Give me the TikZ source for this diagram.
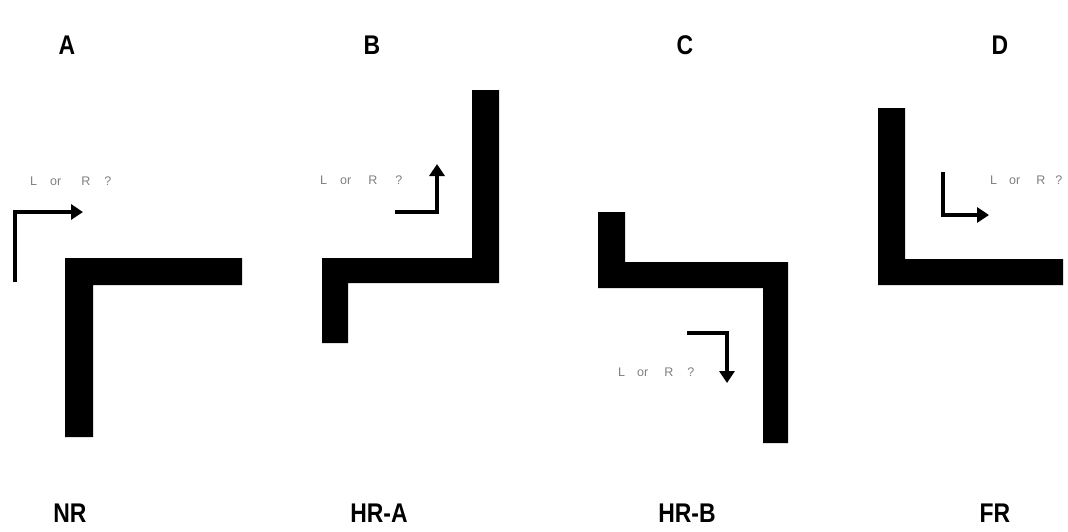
\documentclass[tikz,border=0pt]{standalone}
\usepackage{fontspec}
\setmainfont{Liberation Sans}
\usetikzlibrary{arrows.meta}
\begin{document}
\begin{tikzpicture}[x=1pt,y=-1pt,
  bar/.style={fill=black,draw=none},
  turn/.style={line width=4.5pt,-{Triangle[length=12pt,width=15pt]},line join=miter},
  panel/.style={font=\bfseries\fontsize{27}{30}\selectfont,inner sep=0pt,xscale=0.85},
  ask/.style={font=\fontsize{12.5}{14}\selectfont,text=black!50,inner sep=0pt,anchor=west}]
\useasboundingbox (0,0) rectangle (1068,531);
% panel letters
\node[panel] (la) at (67,45) {A};
\node[panel] (lb) at (372,45) {B};
\node[panel] (lc) at (685,45) {C};
\node[panel] (ld) at (1000,45) {D};
% bottom labels
\node[panel] (na) at (70,513) {NR};
\node[panel] (nb) at (379,513) {HR-A};
\node[panel] (nc) at (687,513) {HR-B};
\node[panel] (nd) at (995,513) {FR};
% corridors
\fill[bar] (65,258) -- (242,258) -- (242,285) -- (93,285) -- (93,437) -- (65,437) -- cycle;
\fill[bar] (472,90) -- (499,90) -- (499,283) -- (348,283) -- (348,343) -- (322,343) -- (322,258) -- (472,258) -- cycle;
\fill[bar] (598,212) -- (625,212) -- (625,262) -- (788,262) -- (788,443) -- (763,443) -- (763,288) -- (598,288) -- cycle;
\fill[bar] (878,108) -- (905,108) -- (905,259) -- (1063,259) -- (1063,285) -- (878,285) -- cycle;
% turn arrows
\coordinate (a0) at (15,282); \coordinate (a1) at (15,212); \coordinate (a2) at (83,212);
\draw[turn] (a0) -- (a1) -- (a2);
\coordinate (b0) at (395,212); \coordinate (b1) at (437,212); \coordinate (b2) at (437,164);
\draw[turn] (b0) -- (b1) -- (b2);
\coordinate (c0) at (687,333); \coordinate (c1) at (727,333); \coordinate (c2) at (727,383);
\draw[turn] (c0) -- (c1) -- (c2);
\coordinate (d0) at (943,172); \coordinate (d1) at (943,215); \coordinate (d2) at (989,215);
\draw[turn] (d0) -- (d1) -- (d2);
% questions
\node[ask] (qa) at (30,181) {L\hspace{13pt}or\hspace{20pt}R\hspace{14pt}?};
\node[ask] (qb) at (320,180) {L\hspace{13pt}or\hspace{17pt}R\hspace{18pt}?};
\node[ask] (qc) at (618,372) {L\hspace{12pt}or\hspace{16pt}R\hspace{14pt}?};
\node[ask] (qd) at (990,180) {L\hspace{12pt}or\hspace{16pt}R\hspace{10pt}?};
\end{tikzpicture}
\end{document}
